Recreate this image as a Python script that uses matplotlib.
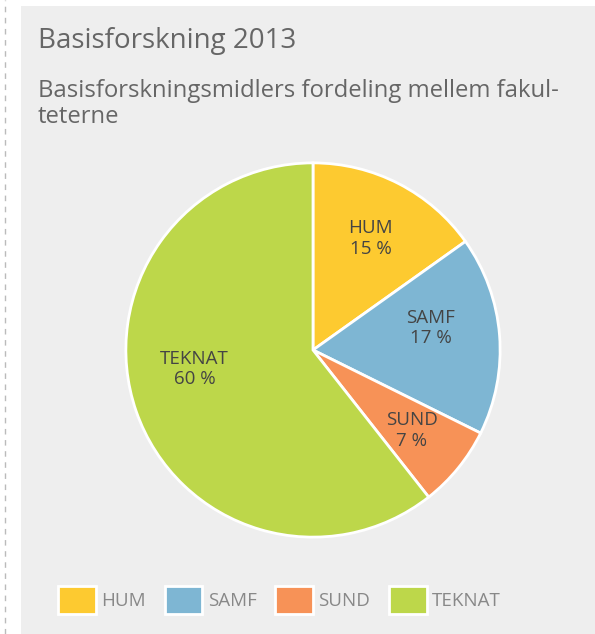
import numpy as np
import matplotlib.pyplot as plt
from matplotlib.patches import Rectangle, Patch
from matplotlib.lines import Line2D

labels = ["HUM", "SAMF", "SUND", "TEKNAT"]
shares = [15, 17, 7, 60]
colors = ["#FDCA30", "#7EB6D3", "#F79257", "#BDD74A"]

plt.rcParams['font.family'] = ['Open Sans', 'DejaVu Sans']

fig = plt.figure(figsize=(5.95, 6.34), dpi=100)
W, H = 595, 634

# grey panel + dashed left line
fig.patches.append(Rectangle((21 / W, 0), 1 - 21 / W, 1 - 6 / H, transform=fig.transFigure,
                             facecolor="#eeeeee", edgecolor="none", zorder=-10))
fig.lines.append(Line2D([5 / W, 5 / W], [0, 1], transform=fig.transFigure,
                        color="#bbbbbb", lw=1, ls=(0, (4, 4)), zorder=-10))

fig.text(38 / W, 1 - 41 / H, "Basisforskning 2013", fontsize=20, color="#666666", va="center")
fig.text(38 / W, 1 - 104 / H, "Basisforskningsmidlers fordeling mellem fakul-\nteterne",
         fontsize=17.2, color="#666666", va="center", linespacing=1.12)

R = 189
ax = fig.add_axes([(313 - R) / W, 1 - (350 + R) / H, 2 * R / W, 2 * R / H])
ax.set_zorder(5)

wedges = ax.pie(shares, colors=colors, startangle=90, counterclock=False,
                wedgeprops=dict(edgecolor="white", linewidth=2))[0]
# small per-label nudges (radius factor, angle offset in degrees)
nudge = [(0.67, 0), (0.64, 6), (0.68, 0), (0.64, -10)]
for w, lab, val, (rf, da) in zip(wedges, labels, shares, nudge):
    ang = np.deg2rad((w.theta1 + w.theta2) / 2 + da)
    ax.text(rf * np.cos(ang), rf * np.sin(ang), "{}\n{} %".format(lab, val),
            ha="center", va="center", fontsize=13.5, color="#444444", linespacing=1.2)
ax.set_xlim(-1.01, 1.01)
ax.set_ylim(-1.01, 1.01)
ax.set_aspect("equal")
ax.axis("off")

handles = [Patch(facecolor=c, edgecolor="white", linewidth=2) for c in colors]
fig.legend(handles, labels, loc="center", bbox_to_anchor=(0.47, 1 - 600 / H), ncol=4,
           frameon=False, fontsize=13.5, labelcolor="#888888",
           handlelength=2.0, handleheight=2.0, handletextpad=0.3, columnspacing=1.0)

fig.savefig("out.png", dpi=100)
